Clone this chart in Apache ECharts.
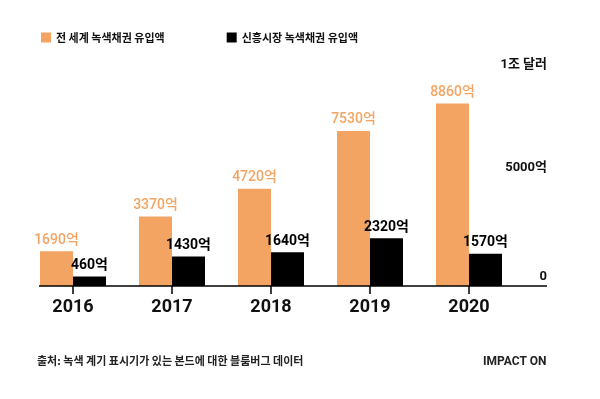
<!DOCTYPE html>
<html>
<head>
<meta charset="utf-8">
<script src="https://cdn.jsdelivr.net/npm/echarts@6/dist/echarts.min.js"></script>
<style>
  html, body { margin: 0; padding: 0; background: #fff; }
  #main { width: 600px; height: 399px; }
</style>
</head>
<body>
<div id="main"></div>
<script>
var years = ["2016", "2017", "2018", "2019", "2020"];
var globalFlow = [1690, 3370, 4720, 7530, 8860]; // 전 세계 (억 달러)
var emergingFlow = [460, 1430, 1640, 2320, 1570]; // 신흥시장 (억 달러)
var yTicks = { 0: "0", 5000: "5000억", 10000: "1조 달러" };

var orange = "#F4A462";
var font = "'Noto Sans CJK KR', 'Noto Sans', sans-serif";
var numFont = "Roboto, 'Noto Sans CJK KR', sans-serif";

var chartDom = document.getElementById("main");
var myChart = echarts.init(chartDom);

var option = {
  backgroundColor: "#fff",
  textStyle: { fontFamily: font },
  animation: false,
  legend: {
    left: 36,
    top: 27,
    itemWidth: 10,
    itemHeight: 10,
    itemGap: 62,
    icon: "rect",
    textStyle: { fontSize: 11, fontWeight: "bold", color: "#111", fontFamily: font },
    data: ["전 세계 녹색채권 유입액", "신흥시장 녹색채권 유입액"],
  },
  grid: { left: 23.5, right: 81.5, top: 80, bottom: 113 },
  xAxis: {
    type: "category",
    data: years,
    axisLine: { show: false },
    axisTick: { show: true, alignWithLabel: true, length: 8, lineStyle: { color: "#000", width: 1.5 } },
    axisLabel: { margin: 13, fontSize: 18, fontWeight: "bold", color: "#111", fontFamily: numFont },
  },
  yAxis: {
    type: "value",
    position: "right",
    min: 0,
    max: 10000,
    interval: 5000,
    splitLine: { show: false },
    axisLine: { show: false },
    axisTick: { show: false },
    axisLabel: {
      margin: 28.5,
      align: "right",
      verticalAlign: "bottom",
      formatter: function (v) {
        return v === 0 ? "{z|0}" : "{u|" + yTicks[v] + "}";
      },
      rich: {
        z: { fontSize: 13, fontWeight: "bold", color: "#111", fontFamily: numFont, padding: [0, 0, 3, 0] },
        u: { fontSize: 13, fontWeight: "bold", color: "#111", fontFamily: numFont, padding: [0, 0, 9, 0] },
      },
    },
  },
  series: [
    {
      name: "전 세계 녹색채권 유입액",
      type: "bar",
      barWidth: 33,
      barGap: "0%",
      itemStyle: { color: orange },
      label: {
        show: true,
        position: "top",
        distance: 4,
        formatter: "{c}억",
        fontSize: 14,
        fontWeight: 500,
        color: orange,
        fontFamily: numFont,
      },
      data: globalFlow,
    },
    {
      name: "신흥시장 녹색채권 유입액",
      type: "bar",
      barWidth: 33,
      itemStyle: { color: "#000" },
      label: {
        show: true,
        position: "top",
        distance: 4,
        formatter: "{c}억",
        fontSize: 14,
        fontWeight: "bold",
        color: "#000",
        fontFamily: numFont,
      },
      data: emergingFlow,
    },
  ],
  graphic: [
    {
      type: "line",
      shape: { x1: 39, y1: 286, x2: 547, y2: 286 },
      style: { stroke: "#000", lineWidth: 1.5 },
      z: 10,
    },
    {
      type: "text",
      left: 37,
      top: 355,
      style: {
        text: "출처: 녹색 계기 표시기가 있는 본드에 대한 블룸버그 데이터",
        fontSize: 11,
        fontWeight: "bold",
        fill: "#222",
        fontFamily: font,
      },
    },
    {
      type: "text",
      left: 483,
      top: 356,
      style: {
        text: "IMPACT ON",
        fontSize: 12,
        fontWeight: "bold",
        fill: "#222",
        fontFamily: "Roboto, sans-serif",
      },
    },
  ],
};

option && myChart.setOption(option);
</script>
</body>
</html>
